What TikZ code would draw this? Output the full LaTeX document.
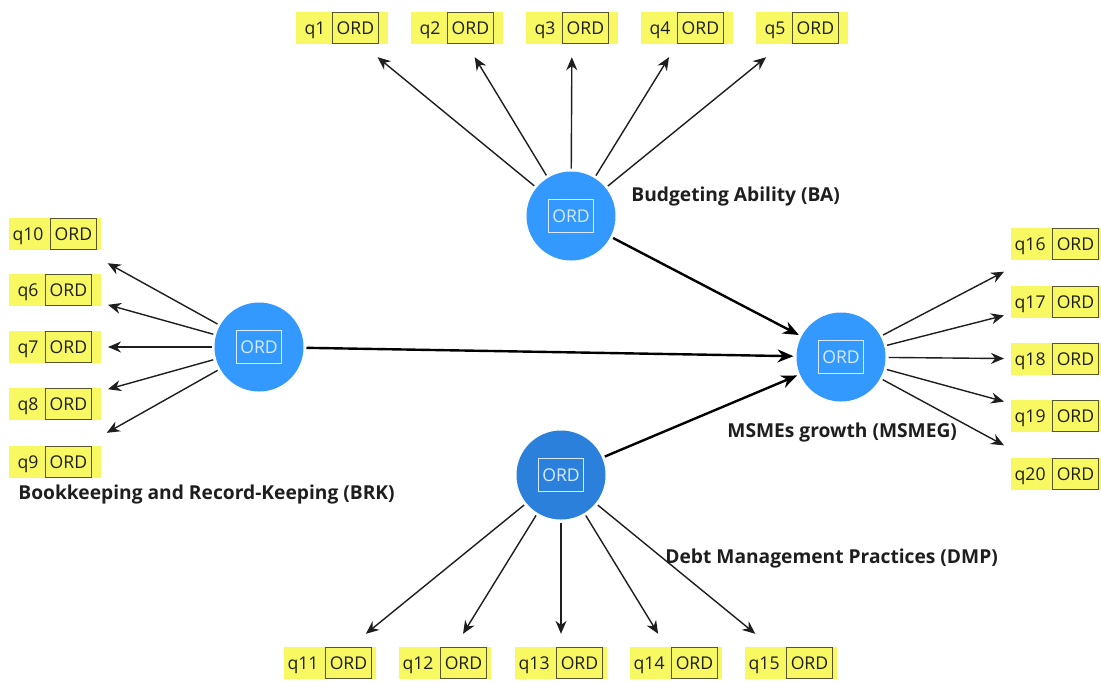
\documentclass[tikz,border=0pt]{standalone}
\usepackage{fontspec}
\setmainfont{Open Sans}
\usetikzlibrary{arrows.meta}
\definecolor{plsblue}{HTML}{3399FF}
\definecolor{plsdark}{HTML}{2A80DA}
\definecolor{plsyellow}{HTML}{F8F862}
\definecolor{plsedge}{HTML}{55552E}
\definecolor{plsink}{HTML}{1E1E1E}
\definecolor{plspale}{HTML}{D6EBFF}

\newcommand{\ordtag}{{\setlength{\fboxsep}{2pt}\setlength{\fboxrule}{0.6pt}\fcolorbox{plsedge}{plsyellow}{\rule[-2.5pt]{0pt}{11pt}ORD}}}

\begin{document}
\begin{tikzpicture}[x=0.5pt, y=-0.5pt, font=\fontsize{8.8}{10}\selectfont,
  construct/.style={circle, fill=plsblue, minimum size=44.5pt, inner sep=0pt, outer sep=1.5pt},
  ordframe/.style={draw=plspale, text=plspale, line width=0.6pt, minimum width=22.5pt, minimum height=16.5pt, inner sep=0pt},
  indicator/.style={fill=plsyellow, text=plsink, minimum width=46pt, minimum height=16pt, inner sep=0pt, outer xsep=3.5pt, outer ysep=6.5pt},
  loading/.style={draw=plsink, line width=0.7pt, -{Stealth[length=6.5pt,width=5.5pt]}},
  structural/.style={draw=black, line width=1.2pt, -{Stealth[length=8pt,width=6.5pt]}},
  lbl/.style={font=\fontsize{9.6}{11}\selectfont\bfseries, text=plsink, anchor=west, inner sep=0pt}]
  \path[use as bounding box, fill=white] (0,0) rectangle (1101,682);

  % constructs
  \node[construct] (BA) at (571,216) {};
  \node[construct] (BRK) at (259,347) {};
  \node[construct] (MSMEG) at (841,357) {};
  \node[construct, fill=plsdark] (DMP) at (561,475) {};
  \node[ordframe] (BAtag) at (BA) {ORD};
  \node[ordframe] (BRKtag) at (BRK) {ORD};
  \node[ordframe] (MSMEGtag) at (MSMEG) {ORD};
  \node[ordframe] (DMPtag) at (DMP) {ORD};

  \node[lbl] (BAlabel) at (631,197) {Budgeting Ability (BA)};
  \node[lbl] (BRKlabel) at (18,494) {Bookkeeping and Record-Keeping (BRK)};
  \node[lbl] (MSMEGlabel) at (727,432) {MSMEs growth (MSMEG)};
  \node[lbl] (DMPlabel) at (665,558) {Debt Management Practices (DMP)};

  % indicators
  \node[indicator] (q1) at (342,28) {q1\hspace{3pt}\ordtag};
  \node[indicator] (q2) at (457,28) {q2\hspace{3pt}\ordtag};
  \node[indicator] (q3) at (572,28) {q3\hspace{3pt}\ordtag};
  \node[indicator] (q4) at (687,28) {q4\hspace{3pt}\ordtag};
  \node[indicator] (q5) at (802,28) {q5\hspace{3pt}\ordtag};
  \node[indicator] (q10) at (55,234) {q10\hspace{3pt}\ordtag};
  \node[indicator] (q6) at (55,290) {q6\hspace{3pt}\ordtag};
  \node[indicator] (q7) at (55,347) {q7\hspace{3pt}\ordtag};
  \node[indicator] (q8) at (55,404) {q8\hspace{3pt}\ordtag};
  \node[indicator] (q9) at (55,462) {q9\hspace{3pt}\ordtag};
  \node[indicator] (q16) at (1057,244) {q16\hspace{3pt}\ordtag};
  \node[indicator] (q17) at (1057,302) {q17\hspace{3pt}\ordtag};
  \node[indicator] (q18) at (1057,359) {q18\hspace{3pt}\ordtag};
  \node[indicator] (q19) at (1057,416) {q19\hspace{3pt}\ordtag};
  \node[indicator] (q20) at (1057,474) {q20\hspace{3pt}\ordtag};
  \node[indicator] (q11) at (330,663) {q11\hspace{3pt}\ordtag};
  \node[indicator] (q12) at (445,663) {q12\hspace{3pt}\ordtag};
  \node[indicator] (q13) at (561,663) {q13\hspace{3pt}\ordtag};
  \node[indicator] (q14) at (676,663) {q14\hspace{3pt}\ordtag};
  \node[indicator] (q15) at (791,663) {q15\hspace{3pt}\ordtag};

  % loadings
  \draw[loading] (BA) -- (q1);
  \draw[loading] (BA) -- (q2);
  \draw[loading] (BA) -- (q3);
  \draw[loading] (BA) -- (q4);
  \draw[loading] (BA) -- (q5);
  \draw[loading] (BRK) -- (q10);
  \draw[loading] (BRK) -- (q6);
  \draw[loading] (BRK) -- (q7);
  \draw[loading] (BRK) -- (q8);
  \draw[loading] (BRK) -- (q9);
  \draw[loading] (MSMEG) -- (q16);
  \draw[loading] (MSMEG) -- (q17);
  \draw[loading] (MSMEG) -- (q18);
  \draw[loading] (MSMEG) -- (q19);
  \draw[loading] (MSMEG) -- (q20);
  \draw[loading] (DMP) -- (q11);
  \draw[loading] (DMP) -- (q12);
  \draw[loading] (DMP) -- (q13);
  \draw[loading] (DMP) -- (q14);
  \draw[loading] (DMP) -- (q15);

  % paths
  \draw[structural] (BA) -- (MSMEG);
  \draw[structural] (BRK) -- (MSMEG);
  \draw[structural] (DMP) -- (MSMEG);
\end{tikzpicture}
\end{document}
